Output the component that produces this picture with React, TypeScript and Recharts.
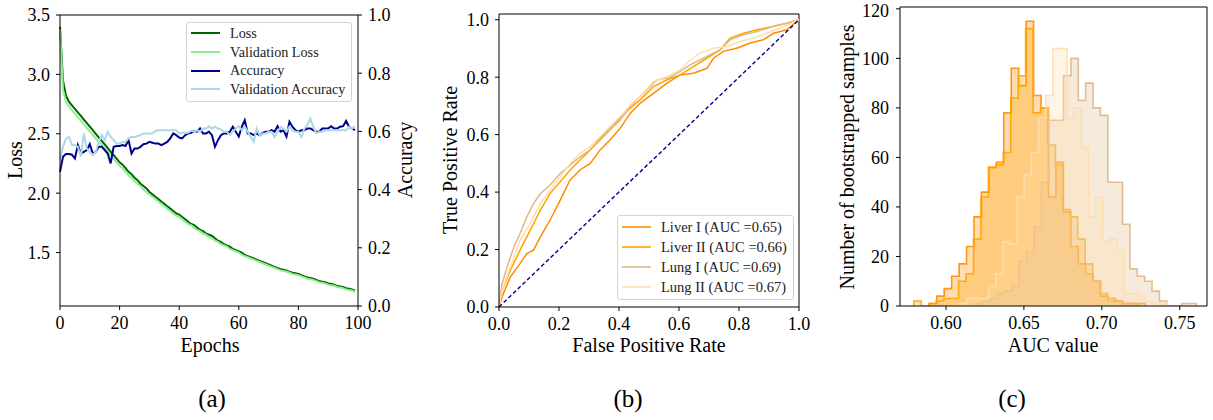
import React from 'react';
import { LineChart, Line, AreaChart, Area, XAxis, YAxis, Legend, ReferenceLine } from 'recharts';

const FONT = '"Liberation Serif", "DejaVu Serif", serif';

// ---------- (a) training history ----------
const loss = [
  3.40, 2.95, 2.82, 2.77, 2.74, 2.71, 2.68, 2.65, 2.62, 2.59,
  2.56, 2.53, 2.50, 2.47, 2.44, 2.41, 2.38, 2.35, 2.32, 2.29,
  2.26, 2.24, 2.21, 2.18, 2.16, 2.13, 2.11, 2.08, 2.06, 2.04,
  2.01, 1.99, 1.97, 1.95, 1.93, 1.91, 1.89, 1.87, 1.85, 1.83,
  1.82, 1.80, 1.78, 1.76, 1.74, 1.73, 1.71, 1.69, 1.68, 1.66,
  1.65, 1.64, 1.62, 1.60, 1.59, 1.57, 1.56, 1.55, 1.53, 1.52,
  1.51, 1.50, 1.48, 1.47, 1.46, 1.45, 1.44, 1.43, 1.42, 1.41,
  1.40, 1.39, 1.38, 1.37, 1.36, 1.355, 1.35, 1.34, 1.33, 1.325,
  1.32, 1.31, 1.30, 1.29, 1.285, 1.28, 1.27, 1.26, 1.255, 1.25,
  1.24, 1.235, 1.23, 1.22, 1.215, 1.21, 1.20, 1.195, 1.19, 1.18,
];
const valLoss = [
  3.38, 2.87, 2.77, 2.73, 2.70, 2.67, 2.64, 2.61, 2.58, 2.55,
  2.52, 2.49, 2.46, 2.43, 2.41, 2.38, 2.35, 2.32, 2.29, 2.26,
  2.23, 2.21, 2.18, 2.15, 2.13, 2.10, 2.08, 2.06, 2.03, 2.01,
  1.99, 1.97, 1.95, 1.93, 1.91, 1.89, 1.87, 1.85, 1.83, 1.81,
  1.80, 1.78, 1.76, 1.74, 1.73, 1.71, 1.69, 1.68, 1.66, 1.65,
  1.63, 1.62, 1.60, 1.59, 1.57, 1.56, 1.55, 1.53, 1.52, 1.51,
  1.50, 1.48, 1.47, 1.46, 1.45, 1.44, 1.43, 1.42, 1.41, 1.40,
  1.39, 1.38, 1.37, 1.36, 1.35, 1.345, 1.34, 1.33, 1.32, 1.315,
  1.31, 1.30, 1.29, 1.28, 1.275, 1.27, 1.26, 1.25, 1.245, 1.24,
  1.23, 1.225, 1.22, 1.21, 1.205, 1.20, 1.19, 1.185, 1.18, 1.17,
];
const accuracy = [
  0.461, 0.513, 0.522, 0.522, 0.520, 0.507, 0.553, 0.524, 0.530, 0.536,
  0.556, 0.524, 0.530, 0.547, 0.547, 0.536, 0.524, 0.490, 0.547, 0.550,
  0.550, 0.553, 0.550, 0.570, 0.524, 0.541, 0.541, 0.547, 0.556, 0.558,
  0.564, 0.561, 0.558, 0.558, 0.553, 0.558, 0.564, 0.576, 0.593, 0.587,
  0.579, 0.576, 0.587, 0.593, 0.595, 0.601, 0.599, 0.610, 0.593, 0.593,
  0.599, 0.587, 0.547, 0.570, 0.587, 0.593, 0.593, 0.599, 0.616, 0.599,
  0.582, 0.616, 0.639, 0.593, 0.593, 0.587, 0.593, 0.587, 0.595, 0.599,
  0.599, 0.604, 0.599, 0.618, 0.599, 0.604, 0.582, 0.633, 0.616, 0.604,
  0.599, 0.604, 0.604, 0.610, 0.610, 0.604, 0.599, 0.599, 0.610, 0.610,
  0.610, 0.618, 0.610, 0.610, 0.616, 0.618, 0.636, 0.616, 0.610, 0.604,
];
const valAccuracy = [
  0.501, 0.547, 0.576, 0.581, 0.553, 0.553, 0.547, 0.513, 0.593, 0.541,
  0.530, 0.518, 0.530, 0.564, 0.587, 0.570, 0.599, 0.581, 0.570, 0.558,
  0.558, 0.564, 0.564, 0.576, 0.581, 0.581, 0.584, 0.587, 0.593, 0.593,
  0.593, 0.593, 0.602, 0.604, 0.604, 0.604, 0.604, 0.604, 0.604, 0.604,
  0.593, 0.595, 0.595, 0.595, 0.602, 0.599, 0.604, 0.599, 0.610, 0.610,
  0.618, 0.610, 0.616, 0.610, 0.607, 0.599, 0.599, 0.587, 0.599, 0.610,
  0.618, 0.604, 0.616, 0.599, 0.581, 0.564, 0.610, 0.587, 0.593, 0.593,
  0.599, 0.599, 0.581, 0.599, 0.616, 0.610, 0.599, 0.616, 0.604, 0.599,
  0.599, 0.581, 0.610, 0.622, 0.644, 0.616, 0.593, 0.599, 0.599, 0.604,
  0.604, 0.604, 0.604, 0.604, 0.604, 0.604, 0.604, 0.616, 0.610, 0.618,
];

const historySeries = [
  { key: 'loss', name: 'Loss', color: '#006400', axis: 'loss' },
  { key: 'valLoss', name: 'Validation Loss', color: '#90ee90', axis: 'loss' },
  { key: 'accuracy', name: 'Accuracy', color: '#00008b', axis: 'acc' },
  { key: 'valAccuracy', name: 'Validation Accuracy', color: '#add8e6', axis: 'acc' },
];

const historyData = loss.map((v, i) => ({
  epoch: i,
  loss: v,
  valLoss: valLoss[i],
  accuracy: accuracy[i],
  valAccuracy: valAccuracy[i],
}));

// ---------- (b) ROC curves ----------
const rocLiver1Fpr = [0, 0.01, 0.038, 0.07, 0.093, 0.115, 0.138, 0.17, 0.204, 0.237, 0.27, 0.304, 0.337, 0.37, 0.404, 0.437, 0.47, 0.515, 0.56, 0.604, 0.648, 0.693, 0.715, 0.748, 0.792, 0.837, 0.881, 0.915, 0.959, 1];
const rocLiver1Tpr = [0, 0.035, 0.105, 0.151, 0.186, 0.198, 0.244, 0.302, 0.372, 0.442, 0.477, 0.5, 0.547, 0.581, 0.622, 0.674, 0.709, 0.744, 0.779, 0.808, 0.814, 0.831, 0.866, 0.89, 0.901, 0.919, 0.93, 0.953, 0.965, 1];
const rocLiver2Fpr = [0, 0.01, 0.038, 0.07, 0.104, 0.138, 0.17, 0.204, 0.237, 0.27, 0.304, 0.337, 0.37, 0.404, 0.437, 0.47, 0.515, 0.56, 0.604, 0.648, 0.693, 0.737, 0.77, 0.815, 0.86, 0.915, 0.959, 1];
const rocLiver2Tpr = [0, 0.058, 0.128, 0.198, 0.267, 0.337, 0.395, 0.436, 0.477, 0.512, 0.547, 0.587, 0.622, 0.657, 0.692, 0.721, 0.767, 0.791, 0.808, 0.837, 0.866, 0.895, 0.936, 0.953, 0.965, 0.977, 0.988, 1];
const rocLung1Fpr = [0, 0.01, 0.027, 0.05, 0.07, 0.093, 0.115, 0.138, 0.17, 0.204, 0.237, 0.27, 0.304, 0.337, 0.37, 0.404, 0.437, 0.47, 0.504, 0.526, 0.57, 0.604, 0.637, 0.67, 0.704, 0.737, 0.77, 0.815, 0.86, 0.915, 0.959, 1];
const rocLung1Tpr = [0, 0.08, 0.14, 0.21, 0.256, 0.314, 0.36, 0.395, 0.424, 0.465, 0.494, 0.523, 0.547, 0.581, 0.616, 0.651, 0.698, 0.733, 0.767, 0.79, 0.8, 0.82, 0.843, 0.86, 0.878, 0.895, 0.93, 0.948, 0.959, 0.977, 0.988, 1];
const rocLung2Fpr = [0, 0.01, 0.038, 0.07, 0.104, 0.138, 0.17, 0.204, 0.237, 0.27, 0.304, 0.337, 0.37, 0.404, 0.437, 0.47, 0.515, 0.56, 0.604, 0.637, 0.67, 0.715, 0.76, 0.804, 0.848, 0.892, 0.937, 1];
const rocLung2Tpr = [0, 0.058, 0.14, 0.233, 0.29, 0.36, 0.407, 0.453, 0.5, 0.535, 0.558, 0.593, 0.628, 0.663, 0.703, 0.733, 0.785, 0.802, 0.826, 0.86, 0.884, 0.901, 0.907, 0.924, 0.936, 0.953, 0.971, 1];
const chanceFpr = [0, 1];
const chanceTpr = [0, 1];

const toPoints = (xs: number[], ys: number[]) => xs.map((x, i) => ({ x, y: ys[i] }));

const rocSeries = [
  { name: 'Liver I (AUC =0.65)', color: '#ff8c00', data: toPoints(rocLiver1Fpr, rocLiver1Tpr) },
  { name: 'Liver II (AUC =0.66)', color: '#ffa500', data: toPoints(rocLiver2Fpr, rocLiver2Tpr) },
  { name: 'Lung I (AUC =0.69)', color: '#deb887', data: toPoints(rocLung1Fpr, rocLung1Tpr) },
  { name: 'Lung II (AUC =0.67)', color: '#ffdead', data: toPoints(rocLung2Fpr, rocLung2Tpr) },
];

// ---------- (c) bootstrapped AUC histograms ----------
const histLiver1Start = 0.5893;
const histLiver1Width = 0.00478;
const histLiver1Counts = [1, 4, 7, 12, 17, 24, 36, 46, 56, 58, 78, 96, 89, 115, 85, 80, 44, 58, 38, 24, 17, 13, 10, 4, 3, 2, 1, 1, 1];
const histLiver2Start = 0.5794;
const histLiver2Width = 0.00478;
const histLiver2Counts = [2, 0, 1, 2, 3, 3, 10, 13, 27, 44, 56, 57, 62, 84, 93, 112, 78, 80, 65, 57, 39, 36, 27, 17, 10, 5, 2, 2, 1, 1];
const histLung1Start = 0.6186;
const histLung1Width = 0.004735;
const histLung1Counts = [1, 2, 3, 5, 6, 8, 18, 22, 32, 50, 75, 75, 93, 100, 83, 90, 80, 77, 50, 50, 33, 15, 12, 10, 6, 2, 0, 0, 1, 1];
const histLung2Start = 0.609;
const histLung2Width = 0.00458;
const histLung2Counts = [1, 3, 3, 3, 8, 13, 26, 25, 44, 53, 62, 76, 85, 104, 104, 76, 80, 64, 36, 44, 26, 27, 23, 5, 5, 4, 2, 1, 1];

// step outline: baseline at first edge, one point per bin, back to baseline at last edge
const toSteps = (start: number, width: number, counts: number[]) => [
  { x: start, y: 0 },
  ...counts.map((c, i) => ({ x: start + i * width, y: c })),
  { x: start + counts.length * width, y: 0 },
];

const histSeries = [
  { name: 'Liver I', color: '#ff8c00', data: toSteps(histLiver1Start, histLiver1Width, histLiver1Counts) },
  { name: 'Liver II', color: '#ffa500', data: toSteps(histLiver2Start, histLiver2Width, histLiver2Counts) },
  { name: 'Lung I', color: '#deb887', data: toSteps(histLung1Start, histLung1Width, histLung1Counts) },
  { name: 'Lung II', color: '#ffdead', data: toSteps(histLung2Start, histLung2Width, histLung2Counts) },
];

const tickStyle = { fontFamily: FONT, fontSize: 18, fill: '#000' };
const axisLineStyle = { stroke: '#000', strokeWidth: 1 };

const Title = ({ x, y, text, rotate, size = 20 }: { x: number; y: number; text: string; rotate?: boolean; size?: number }) => (
  <div
    style={{
      position: 'absolute',
      left: x,
      top: y,
      transform: `translate(-50%, -50%)${rotate ? ' rotate(-90deg)' : ''}`,
      whiteSpace: 'nowrap',
      fontSize: size,
      lineHeight: 1,
      color: '#000',
    }}
  >
    {text}
  </div>
);

const makeLegend = (items: { name: string; color: string }[], rowHeight: number, fontSize: number, lineWidth: number) => () => (
  <div
    style={{
      background: 'rgba(255,255,255,0.85)',
      border: '1px solid #d4d4d4',
      borderRadius: 3,
      padding: '1px 6px 2px 4px',
      fontFamily: FONT,
      fontSize,
      color: '#222',
    }}
  >
    {items.map(it => (
      <div key={it.name} style={{ display: 'flex', alignItems: 'center', height: rowHeight, whiteSpace: 'nowrap' }}>
        <svg width={29} height={6} style={{ marginRight: 10 }}>
          <line x1={0} y1={3} x2={29} y2={3} stroke={it.color} strokeWidth={lineWidth} />
        </svg>
        <span>{it.name}</span>
      </div>
    ))}
  </div>
);

function HistoryChart() {
  return (
    <LineChart width={420} height={360} data={historyData} margin={{ top: 15, right: 0, bottom: 0, left: 0 }}>
      <XAxis dataKey="epoch" type="number" domain={[0, 100]} ticks={[0, 20, 40, 60, 80, 100]}
        height={54} tickSize={4} tickMargin={6} tick={tickStyle} axisLine={axisLineStyle} tickLine={axisLineStyle} />
      <YAxis yAxisId="loss" type="number" domain={[1.05, 3.5]} ticks={[1.5, 2, 2.5, 3, 3.5]} allowDataOverflow
        width={60} tickSize={4} tickMargin={6} tick={tickStyle} tickFormatter={(v: number) => v.toFixed(1)}
        axisLine={axisLineStyle} tickLine={axisLineStyle} />
      <YAxis yAxisId="acc" orientation="right" type="number" domain={[0, 1]} ticks={[0, 0.2, 0.4, 0.6, 0.8, 1]}
        width={62} tickSize={4} tickMargin={6} tick={tickStyle} tickFormatter={(v: number) => v.toFixed(1)}
        axisLine={axisLineStyle} tickLine={axisLineStyle} />
      <ReferenceLine yAxisId="loss" y={3.5} stroke="#000" strokeWidth={1} ifOverflow="visible" />
      {historySeries.map(s => (
        <Line key={s.key} yAxisId={s.axis} dataKey={s.key} name={s.name} stroke={s.color}
          strokeWidth={2} dot={false} activeDot={false} type="linear" isAnimationActive={false} />
      ))}
      <Legend layout="vertical" align="center" verticalAlign="middle"
        wrapperStyle={{ left: 186, top: 22, width: 'auto' }}
        content={makeLegend(historySeries, 18.7, 14.2, 2)} />
    </LineChart>
  );
}

function RocChart() {
  return (
    <LineChart width={400} height={360} margin={{ top: 14, right: 21, bottom: 0, left: 0 }}>
      <XAxis dataKey="x" type="number" domain={[0, 1]} ticks={[0, 0.2, 0.4, 0.6, 0.8, 1]}
        height={53} tickSize={4} tickMargin={6} tick={tickStyle} tickFormatter={(v: number) => v.toFixed(1)}
        axisLine={axisLineStyle} tickLine={axisLineStyle} />
      <YAxis type="number" domain={[0, 1.02]} ticks={[0, 0.2, 0.4, 0.6, 0.8, 1]} allowDataOverflow
        width={79} tickSize={4} tickMargin={6} tick={tickStyle} tickFormatter={(v: number) => v.toFixed(1)}
        axisLine={axisLineStyle} tickLine={axisLineStyle} />
      <ReferenceLine y={1.02} stroke="#000" strokeWidth={1} ifOverflow="visible" />
      <ReferenceLine x={1} stroke="#000" strokeWidth={1} ifOverflow="visible" />
      {rocSeries.map(s => (
        <Line key={s.name} data={s.data} dataKey="y" name={s.name} stroke={s.color} strokeWidth={1.5}
          dot={false} activeDot={false} type="linear" isAnimationActive={false} />
      ))}
      <Line data={toPoints(chanceFpr, chanceTpr)} dataKey="y" name="chance" stroke="#00008b" strokeWidth={1.4}
        strokeDasharray="4 2.5" dot={false} activeDot={false} legendType="none" isAnimationActive={false} />
      <Legend layout="vertical" align="center" verticalAlign="middle"
        wrapperStyle={{ left: 197, top: 215, width: 'auto' }}
        content={makeLegend(rocSeries, 20, 14.5, 1.6)} />
    </LineChart>
  );
}

function HistChart() {
  return (
    <AreaChart width={393} height={360} margin={{ top: 7, right: 6, bottom: 0, left: 0 }}>
      <XAxis dataKey="x" type="number" domain={[0.5705, 0.7675]} ticks={[0.6, 0.65, 0.7, 0.75]} allowDataOverflow
        height={54} tickSize={4} tickMargin={6} tick={tickStyle} tickFormatter={(v: number) => v.toFixed(2)}
        axisLine={axisLineStyle} tickLine={axisLineStyle} />
      <YAxis type="number" domain={[0, 120.75]} ticks={[0, 20, 40, 60, 80, 100, 120]} allowDataOverflow
        width={80} tickSize={4} tickMargin={7} tick={tickStyle}
        axisLine={axisLineStyle} tickLine={axisLineStyle} />
      <ReferenceLine y={120.75} stroke="#000" strokeWidth={1} ifOverflow="visible" />
      <ReferenceLine x={0.7675} stroke="#000" strokeWidth={1} ifOverflow="visible" />
      {histSeries.map(s => (
        <Area key={s.name} data={s.data} dataKey="y" name={s.name} type="stepAfter"
          stroke={s.color} strokeWidth={1.6} strokeOpacity={0.9} fill={s.color} fillOpacity={0.3}
          dot={false} activeDot={false} isAnimationActive={false} />
      ))}
    </AreaChart>
  );
}

export default function App() {
  return (
    <div style={{ position: 'absolute', left: 0, top: 0, width: 1213, height: 420, background: '#fff', fontFamily: FONT }}>
      <div style={{ position: 'absolute', left: 0, top: 0 }}><HistoryChart /></div>
      <div style={{ position: 'absolute', left: 420, top: 0 }}><RocChart /></div>
      <div style={{ position: 'absolute', left: 820, top: 0 }}><HistChart /></div>

      <Title x={15} y={160} text="Loss" rotate />
      <Title x={405} y={160} text="Accuracy" rotate />
      <Title x={210} y={345} text="Epochs" />
      <Title x={450} y={160} text="True Positive Rate" rotate />
      <Title x={649} y={345} text="False Positive Rate" />
      <Title x={847} y={157} text="Number of bootstrapped samples" rotate />
      <Title x={1053} y={345} text="AUC value" />

      <Title x={212} y={398} text="(a)" size={25} />
      <Title x={628} y={398} text="(b)" size={25} />
      <Title x={1012} y={398} text="(c)" size={25} />
    </div>
  );
}
